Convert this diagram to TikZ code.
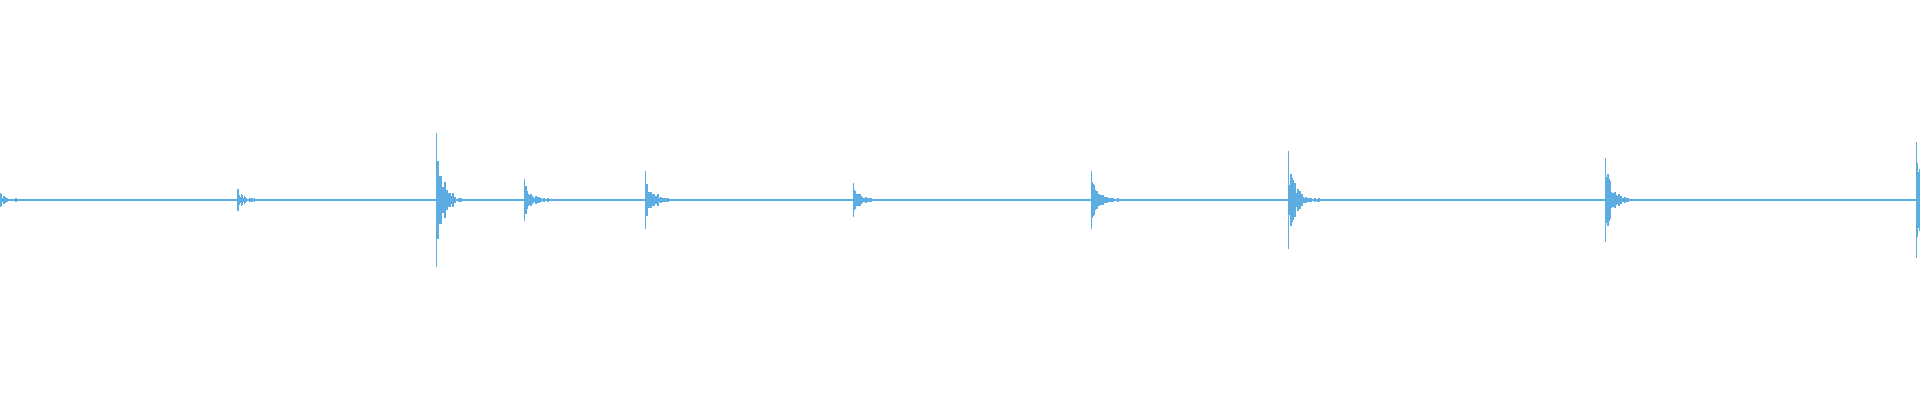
\documentclass[tikz,border=0pt]{standalone}
\usepackage{tikz}
\definecolor{wave}{HTML}{5DADE2}

\begin{document}
\begin{tikzpicture}[x=1cm,y=1cm]
\useasboundingbox (0,0) rectangle (19.2,4);
\pgfmathsetseed{7}
% baseline
\draw[wave, line width=0.3pt] (0,2) -- (19.2,2);

% onsets: position (cm) / peak amplitude (cm)
\foreach \x/\a in {0.0/0.07, 2.375/0.11, 4.36/0.67, 5.24/0.21, 6.45/0.29, 8.53/0.17, 10.91/0.29, 12.88/0.49, 16.05/0.42, 19.16/0.58}{
  \draw[wave, line width=0.4pt] (\x+0.005,2-\a) -- (\x+0.005,2+\a);
  \foreach \i in {1,...,90}{
    \pgfmathsetmacro\h{\a*exp(-\i/7)*(0.2+0.8*rnd)+0.012*rnd}
    \draw[wave, line width=0.3pt] (\x+\i*0.01,2-\h) -- (\x+\i*0.01,2+\h);
  }
}
\end{tikzpicture}
\end{document}
